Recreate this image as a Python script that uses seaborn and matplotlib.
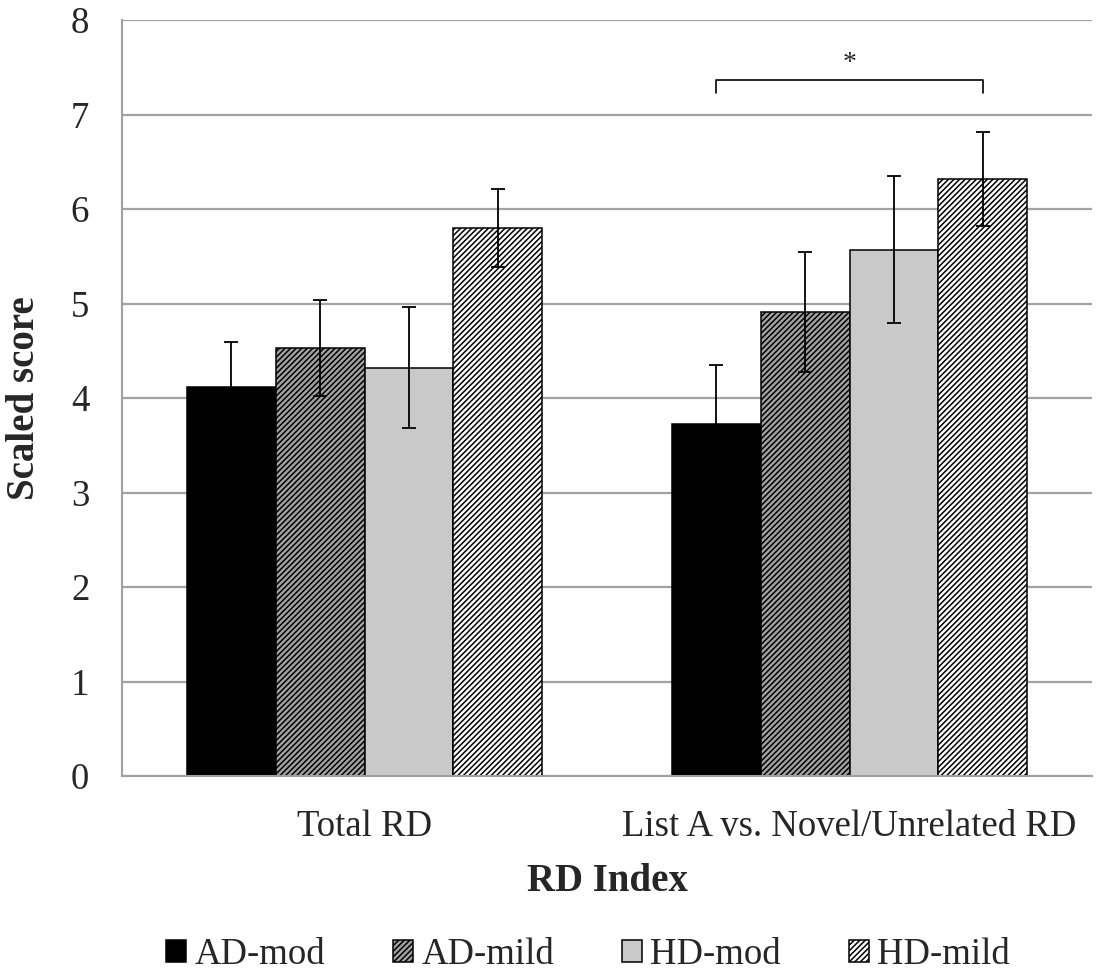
import numpy as np
import pandas as pd
import matplotlib
matplotlib.use("Agg")
import matplotlib.pyplot as plt
import seaborn as sns

# values
categories = ["Total RD", "List A vs. Novel/Unrelated RD"]
groups = ["AD-mod", "AD-mild", "HD-mod", "HD-mild"]
means_total = [4.12, 4.53, 4.32, 5.80]
means_list = [3.73, 4.91, 5.57, 6.32]
err_total = [0.47, 0.51, 0.64, 0.41]
err_list = [0.62, 0.63, 0.78, 0.50]

# significance bracket on the second index (AD-mod vs HD-mild)
sig_pair = ("AD-mod", "HD-mild")
sig_y = 7.37
sig_drop = 0.14

colors = ["#000000", "#a2a2a2", "#c9c9c9", "#ffffff"]
hatches = ["", "//////", "", "//////"]

sns.set_style("white")
plt.rcParams['font.family'] = ['Liberation Serif', 'DejaVu Serif']
plt.rcParams['hatch.linewidth'] = 1.1

rows = []
for g, m1, m2 in zip(groups, means_total, means_list):
    rows.append({"index": categories[0], "group": g, "score": m1})
    rows.append({"index": categories[1], "group": g, "score": m2})
df = pd.DataFrame(rows)
errs = {categories[0]: dict(zip(groups, err_total)),
        categories[1]: dict(zip(groups, err_list))}

fig = plt.figure(figsize=(10.99, 9.77), dpi=100)
ax = fig.add_axes([122/1099, 1-776/977, (1092-122)/1099, (776-20)/977])

sns.barplot(data=df, x="index", y="score", hue="group", order=categories,
            hue_order=groups, palette=colors, width=0.734, gap=0,
            errorbar=None, edgecolor="black", linewidth=1.1, ax=ax, legend=False)

bar_conts = list(ax.containers)
centers = {}
for i, cont in enumerate(bar_conts):
    g = groups[i]
    for j, bar in enumerate(cont):
        bar.set_hatch(hatches[i])
        x = bar.get_x() + bar.get_width() / 2
        centers[(g, categories[j])] = x
        ax.errorbar(x, bar.get_height(), yerr=errs[categories[j]][g], fmt='none',
                    ecolor='black', elinewidth=1.3, capsize=5, capthick=1.3, zorder=5)

# bracket + star
x0 = centers[(sig_pair[0], categories[1])]
x1 = centers[(sig_pair[1], categories[1])]
ax.plot([x0, x0, x1, x1], [sig_y - sig_drop, sig_y, sig_y, sig_y - sig_drop],
        color='black', lw=1.2, clip_on=False)
ax.text((x0 + x1) / 2, sig_y + 0.17, "*", ha='center', va='center', fontsize=20)

ax.set_ylim(0, 8)
ax.set_xlim(-0.5, 1.5)
ax.set_yticks(range(0, 9))
ax.yaxis.grid(True, color='#a3a3a3', lw=1.6)
ax.set_axisbelow(True)

for s in ["top", "right"]:
    ax.spines[s].set_visible(False)
for s in ["left", "bottom"]:
    ax.spines[s].set_color('#a0a0a0')
    ax.spines[s].set_linewidth(1.5)

ax.tick_params(axis='y', length=8.5, width=1.5, color='#a0a0a0', pad=15, labelsize=26.5)
ax.tick_params(axis='x', which='major', length=0, pad=24, labelsize=26.5)
ax.set_xticks([-0.5, 0.5, 1.5], minor=True)
ax.tick_params(axis='x', which='minor', length=10, width=1.5, color='#a0a0a0')

ax.set_xlabel("RD Index", fontsize=28, fontweight='bold', labelpad=14)
ax.set_ylabel("Scaled score", fontsize=28, fontweight='bold', labelpad=20)

handles = [cont[0] for cont in bar_conts]
fig.legend(handles, groups, loc='center', bbox_to_anchor=(588/1099, 1-955/977),
           ncol=4, frameon=False, fontsize=26.5, handlelength=0.55, handleheight=0.55,
           handletextpad=0.22, columnspacing=1.85, borderaxespad=0)

fig.savefig("out.png", dpi=100)
